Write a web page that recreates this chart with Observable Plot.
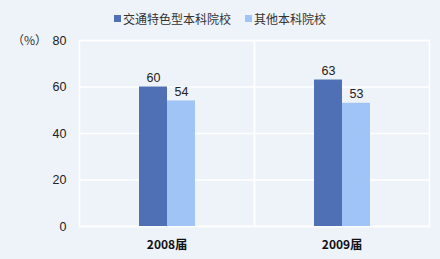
<!DOCTYPE html>
<html>
<head>
<meta charset="utf-8">
<script src="https://cdn.jsdelivr.net/npm/d3@7"></script>
<script src="https://cdn.jsdelivr.net/npm/@observablehq/plot@0.6"></script>
<style>
  html, body { margin: 0; padding: 0; background: #eef2f9; }
  #wrap { position: relative; width: 440px; height: 259px; font-family: "Liberation Sans", "Noto Sans CJK SC", sans-serif; color: #222; }
  #legend { position: absolute; top: 10px; left: 114px; display: flex; align-items: center; font-size: 12px; font-family: "Noto Sans CJK SC", sans-serif; color: #333; }
  #legend .item { display: flex; align-items: center; margin-right: 14px; }
  #legend .sw { width: 7px; height: 7px; margin-right: 2px; }
  #unit { position: absolute; left: 12px; top: 31px; font-size: 12px; font-family: "Noto Sans CJK SC", sans-serif; color: #333; }
</style>
</head>
<body>
<div id="wrap">
  <div id="legend"></div>
  <div id="unit">（%）</div>
</div>
<script>
const years = ["2008届", "2009届"];
const series = ["交通特色型本科院校", "其他本科院校"];
const transportValues = [60, 63];
const otherValues = [54, 53];
const yTicks = [0, 20, 40, 60, 80];
const colors = ["#4f70b4", "#a0c4f5"];

const data = [];
years.forEach((yr, i) => {
  data.push({year: yr, series: series[0], value: transportValues[i]});
  data.push({year: yr, series: series[1], value: otherValues[i]});
});

const legend = document.getElementById("legend");
series.forEach((s, i) => {
  const it = document.createElement("div");
  it.className = "item";
  const sw = document.createElement("span");
  sw.className = "sw";
  sw.style.background = colors[i];
  const tx = document.createElement("span");
  tx.textContent = s;
  it.appendChild(sw); it.appendChild(tx);
  legend.appendChild(it);
});

const chart = Plot.plot({
  width: 440,
  height: 259,
  marginTop: 40,
  marginBottom: 33,
  marginLeft: 78,
  marginRight: 11,
  style: {background: "transparent", fontSize: "12px", fontFamily: "'Liberation Sans', 'Noto Sans CJK SC', sans-serif", color: "#222"},
  fx: {domain: years, padding: 0, label: null},
  x: {domain: series, paddingInner: 0, paddingOuter: 2.03, axis: null},
  y: {domain: [0, 80], label: null},
  color: {domain: series, range: colors},
  marks: [
    Plot.gridY(yTicks, {stroke: "white", strokeOpacity: 1, strokeWidth: 1.5}),
    Plot.frame({stroke: "white", strokeWidth: 1.5}),
    Plot.barY(data, {fx: "year", x: "series", y: "value", fill: "series"}),
    Plot.text(data, {fx: "year", x: "series", y: "value", text: d => String(d.value), lineAnchor: "bottom", dy: -5, fill: "#222", fontSize: 12.5}),
    Plot.axisY(yTicks, {tickSize: 0, tickPadding: 13, fontSize: 12.5, fill: "#222", label: null}),
    Plot.axisFx({anchor: "bottom", tickSize: 0, tickPadding: 14, fontSize: 12, fontWeight: "bold", fill: "#111", label: null, fontFamily: "'Noto Sans CJK SC', sans-serif"})
  ]
});
document.getElementById("wrap").prepend(chart);
chart.style.position = "absolute";
chart.style.left = "0";
chart.style.top = "0";
</script>
</body>
</html>
